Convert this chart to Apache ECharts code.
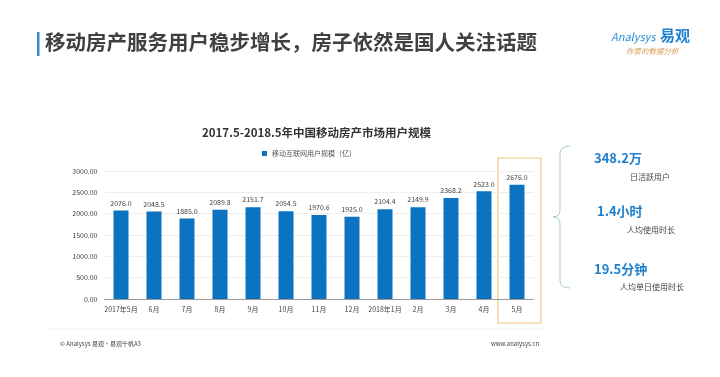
<!DOCTYPE html>
<html>
<head>
<meta charset="utf-8">
<script src="https://cdn.jsdelivr.net/npm/echarts@6/dist/echarts.min.js"></script>
<style>
  html, body { margin: 0; padding: 0; background: #fff; }
  #chart { width: 720px; height: 377px; }
</style>
</head>
<body>
<div id="chart"></div>
<script>
// 月份
const months = ['2017年5月', '6月', '7月', '8月', '9月', '10月', '11月', '12月', '2018年1月', '2月', '3月', '4月', '5月']
// 移动互联网用户规模（亿）
const users = [2076.0, 2048.5, 1885.0, 2089.8, 2151.7, 2054.5, 1970.6, 1925.0, 2104.4, 2149.9, 2368.2, 2523.0, 2676.0]
// 右侧指标
const kpiValues = ['348.2万', '1.4小时', '19.5分钟']
const kpiNames = ['日活跃用户', '人均使用时长', '人均单日使用时长']

const FONT = '"Noto Sans CJK SC", "Noto Sans", sans-serif'
const chart = echarts.init(document.getElementById('chart'))

const kpiPos = [[594, 152, 630, 173], [597, 205, 627, 226], [594, 263, 620, 283]]
const kpiGraphics = []
kpiValues.forEach((v, i) => {
  const p = kpiPos[i]
  kpiGraphics.push({
    type: 'text', x: p[0], y: p[1],
    style: { text: v, font: 'bold 13px ' + FONT, fill: '#1f7fcf' }
  })
  kpiGraphics.push({
    type: 'text', x: p[2], y: p[3],
    style: { text: kpiNames[i], font: '8px ' + FONT, fill: '#444' }
  })
})

// 花括号
const braceStyle = { stroke: '#a9c9d8', lineWidth: 1, fill: 'none' }
const brace = [
  { type: 'bezierCurve', shape: { x1: 570, y1: 146, cpx1: 560, cpy1: 146, x2: 560, y2: 154 }, style: braceStyle },
  { type: 'line', shape: { x1: 560, y1: 154, x2: 560, y2: 210 }, style: braceStyle },
  { type: 'bezierCurve', shape: { x1: 560, y1: 210, cpx1: 560, cpy1: 217, x2: 553, y2: 217 }, style: braceStyle },
  { type: 'bezierCurve', shape: { x1: 553, y1: 217, cpx1: 560, cpy1: 217, x2: 560, y2: 224 }, style: braceStyle },
  { type: 'line', shape: { x1: 560, y1: 224, x2: 560, y2: 281 }, style: braceStyle },
  { type: 'bezierCurve', shape: { x1: 560, y1: 281, cpx1: 560, cpy1: 288, x2: 570, y2: 288 }, style: braceStyle }
]

const option = {
  textStyle: { fontFamily: FONT },
  title: {
    text: '2017.5-2018.5年中国移动房产市场用户规模',
    left: 197,
    top: 122,
    textStyle: { fontSize: 11.5, fontWeight: 'bold', color: '#333', fontFamily: FONT }
  },
  legend: {
    data: ['移动互联网用户规模（亿）'],
    left: 257,
    top: 145,
    itemWidth: 5,
    itemHeight: 5,
    icon: 'rect',
    itemGap: 4,
    textStyle: { fontSize: 7, color: '#555', fontFamily: FONT }
  },
  grid: { left: 104.5, right: 186.5, top: 171, bottom: 78 },
  xAxis: {
    type: 'category',
    data: months,
    axisLine: { lineStyle: { color: '#999' } },
    axisTick: { show: false },
    axisLabel: { fontSize: 7, color: '#444', margin: 7, interval: 0 }
  },
  yAxis: {
    type: 'value',
    min: 0,
    max: 3000,
    interval: 500,
    axisLine: { show: false },
    axisTick: { show: false },
    splitLine: { lineStyle: { color: '#eeeeee' } },
    axisLabel: {
      fontSize: 7, color: '#444', margin: 7,
      formatter: v => v.toFixed(2)
    }
  },
  series: [{
    name: '移动互联网用户规模（亿）',
    type: 'bar',
    data: users,
    barWidth: 15,
    itemStyle: { color: '#0b73bf' },
    label: {
      show: true, position: 'top', distance: 4,
      fontSize: 7, color: '#444',
      formatter: p => p.value.toFixed(1)
    }
  }],
  graphic: [
    // 标题竖条
    { type: 'rect', shape: { x: 37, y: 32, width: 2.5, height: 24 }, style: { fill: '#2a8fd4' } },
    {
      type: 'text', x: 45, y: 32,
      style: { text: '移动房产服务用户稳步增长，房子依然是国人关注话题', font: 'bold 20.5px ' + FONT, fill: '#404040' }
    },
    // logo
    {
      type: 'text', x: 611, y: 31,
      style: { text: 'Analysys', font: 'italic 11px ' + FONT, fill: '#2a8fd4' }
    },
    {
      type: 'text', x: 660, y: 28,
      style: { text: '易观', font: 'bold 15px ' + FONT, fill: '#1f7fcf' }
    },
    {
      type: 'text', x: 626, y: 47,
      style: { text: '你要的数据分析', font: 'italic 7.5px ' + FONT, fill: '#d9a15a' }
    },
    // 5月高亮框
    { type: 'rect', shape: { x: 498, y: 158, width: 43, height: 165 }, style: { fill: 'none', stroke: '#f3c57e', lineWidth: 1.2 } },
    // 页脚
    { type: 'line', shape: { x1: 45, y1: 329, x2: 545, y2: 329 }, style: { stroke: '#e8e8e8', lineWidth: 1, lineDash: [2, 1] } },
    {
      type: 'text', x: 60, y: 341,
      style: { text: '© Analysys 易观·易观千帆A3', font: '6px ' + FONT, fill: '#444' }
    },
    {
      type: 'text', x: 491, y: 341,
      style: { text: 'www.analysys.cn', font: '6px ' + FONT, fill: '#444' }
    }
  ].concat(brace, kpiGraphics)
}

chart.setOption(option)
</script>
</body>
</html>
